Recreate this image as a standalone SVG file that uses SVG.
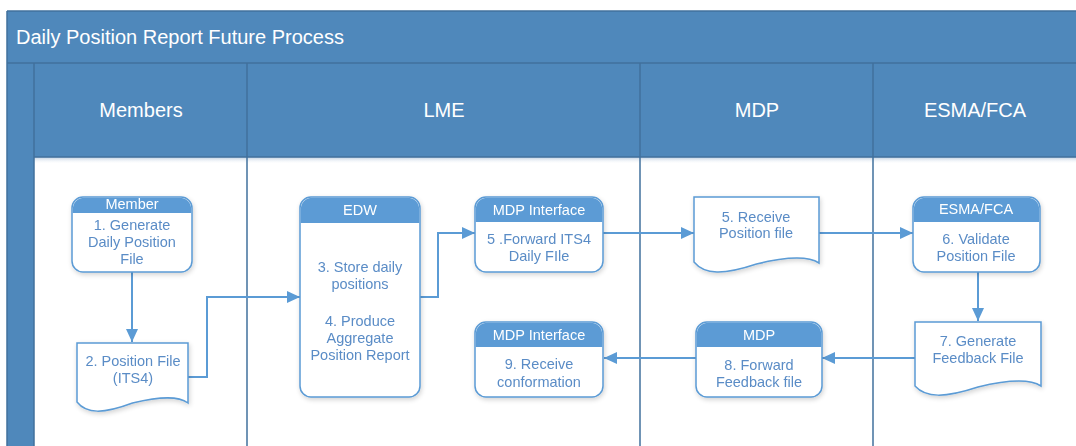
<svg xmlns="http://www.w3.org/2000/svg" width="1076" height="446" viewBox="0 0 1076 446">
  <style>
    .band { fill: #4f88bb; }
    .rule { stroke: #41719c; stroke-width: 1.5; fill: none; }
    .lane-title { font-family: "Liberation Sans", Arial, sans-serif; font-size: 20px; fill: #ffffff; text-anchor: middle; }
    .pool-title { font-family: "Liberation Sans", Arial, sans-serif; font-size: 20px; fill: #ffffff; }
    .box { fill: #ffffff; stroke: #5b9bd5; stroke-width: 1.5; }
    .tab { fill: #5b9bd5; }
    .tab-text { font-family: "Liberation Sans", Arial, sans-serif; font-size: 14.5px; fill: #ffffff; text-anchor: middle; }
    .body-text { font-family: "Liberation Sans", Arial, sans-serif; font-size: 14.5px; fill: #5a8cc6; text-anchor: middle; }
    .link { stroke: #5b9bd5; stroke-width: 2; fill: none; marker-end: url(#arrow); }
  </style>
  <defs>
    <marker id="arrow" markerUnits="userSpaceOnUse" markerWidth="13" markerHeight="12" refX="13" refY="6" orient="auto">
      <path d="M0,0 L13,6 L0,12 z" fill="#5b9bd5"/>
    </marker>
    <filter id="soft" x="-10%" y="-10%" width="120%" height="125%">
      <feGaussianBlur in="SourceAlpha" stdDeviation="2.5"/>
      <feOffset dx="1" dy="2" result="b"/>
      <feComponentTransfer><feFuncA type="linear" slope="0.18"/></feComponentTransfer>
      <feMerge><feMergeNode/><feMergeNode in="SourceGraphic"/></feMerge>
    </filter>
    <linearGradient id="headShade" x1="0" y1="0" x2="0" y2="1">
      <stop offset="0" stop-color="#9fb8d3" stop-opacity="0.7"/>
      <stop offset="1" stop-color="#ffffff" stop-opacity="0"/>
    </linearGradient>
  </defs>

  <!-- pool frame -->
  <g id="pool">
    <rect x="34" y="157" width="1042" height="289" fill="#ffffff"/>
    <rect x="34" y="157" width="1042" height="7" fill="url(#headShade)"/>
    <rect class="band" x="7" y="11" width="1069" height="52"/>
    <rect class="band" x="7" y="63" width="27" height="383"/>
    <rect class="band" x="34" y="63" width="1042" height="94"/>
    <line class="rule" x1="7" y1="11" x2="1076" y2="11" stroke="#6f8fb0"/>
    <line class="rule" x1="7" y1="11" x2="7" y2="446"/>
    <line class="rule" x1="7" y1="63" x2="1076" y2="63"/>
    <line class="rule" x1="34" y1="157" x2="1076" y2="157"/>
    <line class="rule" x1="34" y1="63" x2="34" y2="446"/>
    <line class="rule" x1="247" y1="63" x2="247" y2="446"/>
    <line class="rule" x1="640" y1="63" x2="640" y2="446"/>
    <line class="rule" x1="873" y1="63" x2="873" y2="446"/>
    <text class="pool-title" x="16" y="44">Daily Position Report Future Process</text>
    <text class="lane-title" x="141" y="117">Members</text>
    <text class="lane-title" x="444" y="117">LME</text>
    <text class="lane-title" x="757" y="117">MDP</text>
    <text class="lane-title" x="975" y="117">ESMA/FCA</text>
  </g>

  <!-- connectors -->
  <g id="connectors">
    <path class="link" d="M132 272 V342"/>
    <path class="link" d="M188 377 H207 V297 H300"/>
    <path class="link" d="M420 297 H438 V233 H475"/>
    <path class="link" d="M603 233 H694"/>
    <path class="link" d="M819 233 H913"/>
    <path class="link" d="M978 272 V321"/>
    <path class="link" d="M915 358 H822"/>
    <path class="link" d="M696 358 H604"/>
  </g>

  <!-- 1. Generate Daily Position File -->
  <g id="member-generate" filter="url(#soft)">
    <rect class="box" x="72" y="197" width="120" height="75" rx="11"/>
    <path class="tab" d="M72.75 213 V208 A11 11 0 0 1 83 197.75 H181 A11 11 0 0 1 191.25 208 V213 Z"/>
    <text class="tab-text" x="132" y="209">Member</text>
    <text class="body-text" x="132" y="230">1. Generate</text>
    <text class="body-text" x="132" y="247">Daily Position</text>
    <text class="body-text" x="132" y="264">File</text>
  </g>

  <!-- 2. Position File (ITS4): document shape with wavy foot -->
  <g id="position-file" filter="url(#soft)">
    <path class="box" d="M77 343 H188 V403 C178.5 396 161.8 396 132.5 403 C103.2 414 86.5 414 77 402 Z"/>
    <text class="body-text" x="133" y="366">2. Position File</text>
    <text class="body-text" x="133" y="383">(ITS4)</text>
  </g>

  <!-- EDW: 3. Store / 4. Produce -->
  <g id="edw" filter="url(#soft)">
    <rect class="box" x="300" y="197" width="120" height="200" rx="11"/>
    <path class="tab" d="M300.75 223 V208 A11 11 0 0 1 311 197.75 H409 A11 11 0 0 1 419.25 208 V223 Z"/>
    <text class="tab-text" x="360" y="215">EDW</text>
    <text class="body-text" x="360" y="272">3. Store daily</text>
    <text class="body-text" x="360" y="289">positions</text>
    <text class="body-text" x="360" y="326">4. Produce</text>
    <text class="body-text" x="360" y="343">Aggregate</text>
    <text class="body-text" x="360" y="360">Position Report</text>
  </g>

  <!-- MDP Interface: 5 .Forward ITS4 Daily FIle -->
  <g id="mdp-interface-forward" filter="url(#soft)">
    <rect class="box" x="475" y="197" width="128" height="75" rx="11"/>
    <path class="tab" d="M475.75 222 V208 A11 11 0 0 1 486 197.75 H592 A11 11 0 0 1 602.25 208 V222 Z"/>
    <text class="tab-text" x="539" y="215">MDP Interface</text>
    <text class="body-text" x="539" y="244">5 .Forward ITS4</text>
    <text class="body-text" x="539" y="261">Daily FIle</text>
  </g>

  <!-- MDP Interface: 9. Receive conformation -->
  <g id="mdp-interface-receive" filter="url(#soft)">
    <rect class="box" x="475" y="322" width="128" height="75" rx="11"/>
    <path class="tab" d="M475.75 347 V333 A11 11 0 0 1 486 322.75 H592 A11 11 0 0 1 602.25 333 V347 Z"/>
    <text class="tab-text" x="539" y="340">MDP Interface</text>
    <text class="body-text" x="539" y="369">9. Receive</text>
    <text class="body-text" x="539" y="387">conformation</text>
  </g>

  <!-- 5. Receive Position file -->
  <g id="receive-position-file" filter="url(#soft)">
    <path class="box" d="M694 197 H819 V263 C808.3 256 789.5 256 756.5 264 C723.5 275 704.7 275 694 262 Z"/>
    <text class="body-text" x="756" y="222">5. Receive</text>
    <text class="body-text" x="756" y="238">Position file</text>
  </g>

  <!-- MDP: 8. Forward Feedback file -->
  <g id="mdp-forward" filter="url(#soft)">
    <rect class="box" x="696" y="322" width="126" height="75" rx="11"/>
    <path class="tab" d="M696.75 347 V333 A11 11 0 0 1 707 322.75 H811 A11 11 0 0 1 821.25 333 V347 Z"/>
    <text class="tab-text" x="759" y="340">MDP</text>
    <text class="body-text" x="759" y="370">8. Forward</text>
    <text class="body-text" x="759" y="387">Feedback file</text>
  </g>

  <!-- ESMA/FCA: 6. Validate Position File -->
  <g id="esma-validate" filter="url(#soft)">
    <rect class="box" x="913" y="197" width="127" height="75" rx="11"/>
    <path class="tab" d="M913.75 222 V208 A11 11 0 0 1 924 197.75 H1029 A11 11 0 0 1 1039.25 208 V222 Z"/>
    <text class="tab-text" x="976" y="214">ESMA/FCA</text>
    <text class="body-text" x="976" y="244">6. Validate</text>
    <text class="body-text" x="976" y="261">Position File</text>
  </g>

  <!-- 7. Generate Feedback File -->
  <g id="generate-feedback" filter="url(#soft)">
    <path class="box" d="M915 322 H1041 V386 C1030.2 379 1011.3 379 978 387 C944.7 398 925.8 398 915 386 Z"/>
    <text class="body-text" x="978" y="346">7. Generate</text>
    <text class="body-text" x="978" y="363">Feedback File</text>
  </g>
</svg>
